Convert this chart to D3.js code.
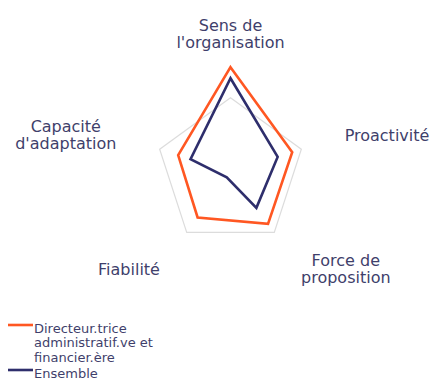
<!DOCTYPE html>
<html>
<head>
<meta charset="utf-8">
<script src="https://cdn.jsdelivr.net/npm/d3@7"></script>
<style>
  body { margin: 0; background: #fff; }
  svg { display: block; font-family: "DejaVu Sans", sans-serif; }
</style>
</head>
<body>
<div id="chart"></div>
<script>
// categories, clockwise from the top
const axes = ["Sens de l'organisation", "Proactivité", "Force de proposition", "Fiabilité", "Capacité d'adaptation"];
const axisLabels = [["Sens de", "l'organisation"], ["Proactivité"], ["Force de", "proposition"], ["Fiabilité"], ["Capacité", "d'adaptation"]];

const seriesNames = ["Directeur.trice administratif.ve et financier.ère", "Ensemble"];
const directeurValues = [98.7, 61, 60, 52.6, 51.7];
const ensembleValues = [88.3, 46.6, 41.4, 6, 39.5];
const gridLevels = [70];

const colors = ["#ff5722", "#2e2e6c"];
const textColor = "#3f3f6b";

const width = 431, height = 378;
const cx = 230.5, cy = 172.2;

const svg = d3.select("#chart")
    .append("svg")
    .attr("width", width)
    .attr("height", height);

const g = svg.append("g").attr("transform", `translate(${cx},${cy})`);

const rScale = d3.scaleLinear().domain([0, 100]).range([0, 106.4]);
const angle = d3.scalePoint().domain(axes).range([0, 2 * Math.PI * (axes.length - 1) / axes.length]);

const pt = (a, r) => [Math.sin(angle(a)) * r, -Math.cos(angle(a)) * r];

// grid pentagon
g.selectAll(".grid")
    .data(gridLevels)
    .enter()
    .append("polygon")
    .attr("points", lv => axes.map(a => pt(a, rScale(lv)).join(",")).join(" "))
    .attr("fill", "none")
    .attr("stroke", "#dcdcdc")
    .attr("stroke-width", 1.2);

// series
const series = [directeurValues, ensembleValues];
const line = d3.lineRadial()
    .angle((d, i) => angle(axes[i]))
    .radius(d => rScale(d))
    .curve(d3.curveLinearClosed);

g.selectAll(".serie")
    .data(series)
    .enter()
    .append("path")
    .attr("d", d => line(d))
    .attr("fill", "none")
    .attr("stroke", (d, i) => colors[i])
    .attr("stroke-width", 2.6)
    .attr("stroke-linejoin", "miter");

// axis labels
const labelR = 120;
const lineH = 17;
axes.forEach((a, i) => {
    const [x, y] = pt(a, labelR);
    const t = g.append("text")
        .attr("fill", textColor)
        .attr("font-size", "16px")
        .attr("text-anchor", "middle");
    axisLabels[i].forEach((s, j) => {
        t.append("tspan").attr("x", 0).attr("y", j * lineH).text(s);
    });
    const bb = t.node().getBBox();
    let tx, ty;
    const s = Math.sin(angle(a));
    if (Math.abs(s) < 0.01) {
        tx = x;
        ty = y - (bb.y + bb.height);
    } else {
        tx = s > 0 ? x - bb.x : x - (bb.x + bb.width);
        ty = y - (bb.y + bb.height / 2);
    }
    t.attr("transform", `translate(${tx},${ty})`);
});

// legend
const legend = svg.append("g").attr("transform", "translate(8,325)");
const wrapWidth = 128;
seriesNames.forEach((name, i) => {
    const item = legend.append("g").attr("transform", `translate(0,${i * 45})`);
    item.append("line")
        .attr("x1", 0).attr("x2", 25)
        .attr("y1", 0).attr("y2", 0)
        .attr("stroke", colors[i])
        .attr("stroke-width", 2.6);
    const t = item.append("text")
        .attr("fill", textColor)
        .attr("font-size", "13px")
        .attr("x", 26)
        .attr("y", 7.5);
    const words = name.split(" ");
    let cur = [], k = 0;
    let ts = t.append("tspan").attr("x", 26).attr("y", 7.5);
    words.forEach(w => {
        cur.push(w);
        ts.text(cur.join(" "));
        if (ts.node().getComputedTextLength() > wrapWidth && cur.length > 1) {
            cur.pop();
            ts.text(cur.join(" "));
            cur = [w];
            k++;
            ts = t.append("tspan").attr("x", 26).attr("y", 7.5 + k * 14.5).text(w);
        }
    });
});
</script>
</body>
</html>
